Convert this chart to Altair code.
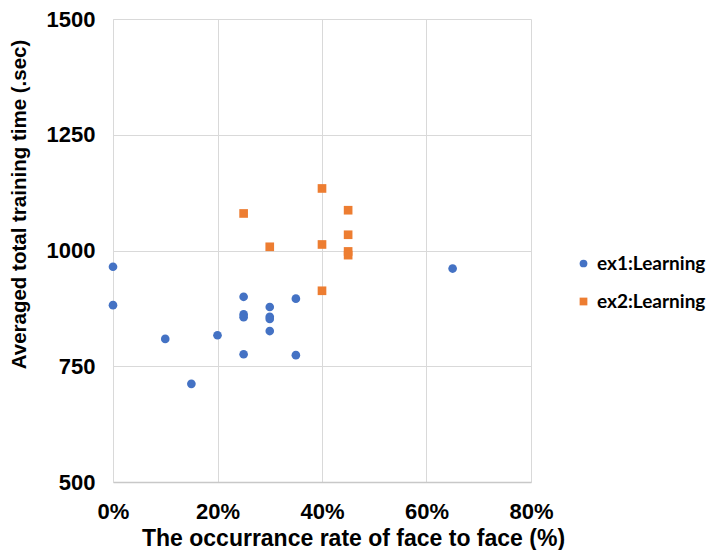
import altair as alt
import pandas as pd

ex1_x = [0.00, 0.00, 0.10, 0.15, 0.20, 0.25, 0.25, 0.25, 0.25, 0.30, 0.30, 0.30, 0.30, 0.35, 0.35, 0.65]
ex1_y = [965, 882, 809, 712, 817, 900, 862, 856, 776, 878, 857, 852, 826, 896, 774, 961]
ex2_x = [0.25, 0.30, 0.40, 0.40, 0.40, 0.45, 0.45, 0.45, 0.45]
ex2_y = [1080, 1008, 1134, 1013, 913, 1087, 1034, 998, 990]
series_names = ["ex1:Learning", "ex2:Learning"]
series_colors = ["#4472C4", "#ED7D31"]
series_shapes = ["circle", "square"]
x_ticks = [0, 0.2, 0.4, 0.6, 0.8]
y_ticks = [500, 750, 1000, 1250, 1500]

df = pd.DataFrame({
    "x": ex1_x + ex2_x,
    "y": ex1_y + ex2_y,
    "series": [series_names[0]] * len(ex1_x) + [series_names[1]] * len(ex2_x),
})

FONT = "Liberation Sans"

chart = alt.Chart(df).mark_point(filled=True, opacity=1, size=75).encode(
    x=alt.X("x:Q",
            scale=alt.Scale(domain=[0, 0.8], nice=False, zero=False),
            axis=alt.Axis(values=x_ticks, format=".0%",
                          title="The occurrance rate of face to face (%)",
                          titleX=240, titleY=63, titleBaseline="alphabetic",
                          titleFont=FONT, titleFontSize=23, titleFontWeight="bold",
                          titleColor="#000000",
                          labelFont=FONT, labelFontSize=22, labelFontWeight="bold",
                          labelColor="#000000", labelPadding=19, labelFlush=False,
                          ticks=False, tickSize=0,
                          domainColor="#c8c8c8", domainWidth=1.5,
                          gridColor="#d9d9d9", gridWidth=1)),
    y=alt.Y("y:Q",
            scale=alt.Scale(domain=[500, 1500], nice=False, zero=False),
            axis=alt.Axis(values=y_ticks, format="d",
                          title="Averaged total training time (.sec)",
                          titleX=-88, titleY=185, titleBaseline="alphabetic",
                          titleAngle=270,
                          titleFont=FONT, titleFontSize=20.5, titleFontWeight="bold",
                          titleColor="#000000",
                          labelFont=FONT, labelFontSize=22, labelFontWeight="bold",
                          labelColor="#000000", labelPadding=18, labelFlush=False,
                          ticks=False, tickSize=0,
                          domainColor="#d9d9d9", domainWidth=1,
                          gridColor="#d9d9d9", gridWidth=1)),
    color=alt.Color("series:N",
                    scale=alt.Scale(domain=series_names, range=series_colors),
                    legend=alt.Legend(title=None, orient="none", legendX=461, legendY=235,
                                      labelFont="Lato", labelFontSize=19, labelFontWeight="bold",
                                      labelColor="#000000", labelOffset=4,
                                      symbolSize=60, rowPadding=18, padding=0,
                                      labelLimit=300)),
    shape=alt.Shape("series:N",
                    scale=alt.Scale(domain=series_names, range=series_shapes)),
).properties(
    width=418,
    height=463,
    autosize=alt.AutoSizeParams(type="none"),
    padding={"left": 105, "top": 11, "right": 184, "bottom": 68},
).configure_view(stroke=None)

chart.save("out.html", embed_options={"renderer": "svg", "actions": False})
